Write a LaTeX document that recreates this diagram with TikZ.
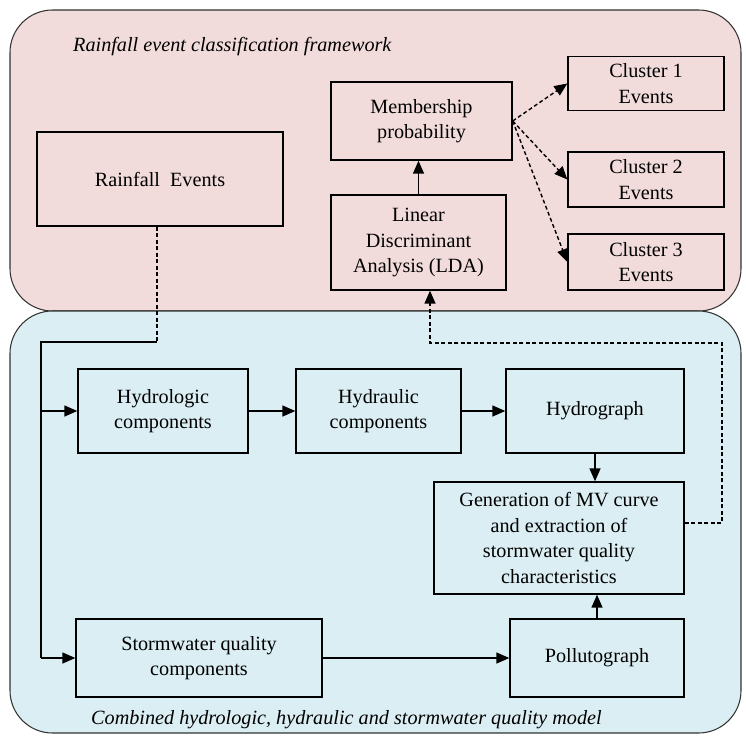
\documentclass[tikz,border=0pt]{standalone}
\usepackage{fontspec}
\setmainfont{Liberation Serif}
\usetikzlibrary{arrows.meta,positioning}
\definecolor{pinkbg}{RGB}{242,220,219}
\definecolor{bluebg}{RGB}{219,238,243}

\begin{document}
\begin{tikzpicture} [x=0.02cm,y=-0.02cm,{block/.style={rectangle,draw=black,line width=0.8pt,align=center,inner sep=1mm,font=\fontsize{11.5}{14.5}\selectfont}},{frame/.style={draw=black!80,line width=0.6pt,rounded corners=0.85cm}},{flow/.style={-{Triangle[length=2.6mm,width=2.2mm]},line width=0.8pt}},{dflow/.style={flow,dash pattern=on 2.2pt off 1.5pt}},{ttl/.style={anchor=west,font=\fontsize{11.5}{14}\selectfont\itshape}}]
		\useasboundingbox (0,0) rectangle (746,737);
		%%frames
		\draw [frame,fill=pinkbg] (10,10) rectangle (741,311);
		\draw [frame,fill=bluebg] (10,311) rectangle (741,733);
		\node at (67,47) [ttl] (t1) {Rainfall event classification framework};
		\node at (85,720) [ttl] (t2) {Combined hydrologic, hydraulic and stormwater quality model};
		%%classification nodes
		\node at (160,179) [block,minimum width=4.92cm,minimum height=1.88cm] (rain) {Rainfall~~Events};
		\node at (421.5,121) [block,minimum width=3.62cm,minimum height=1.56cm] (memb) {Membership\\probability};
		\node at (418.5,242.5) [block,minimum width=3.5cm,minimum height=1.9cm] (lda) {Linear\\Discriminant\\Analysis (LDA)};
		\node at (646,83.5) [block,minimum width=3.12cm,minimum height=1.08cm] (c1) {Cluster 1\\Events};
		\node at (646,179.5) [block,minimum width=3.12cm,minimum height=1.1cm] (c2) {Cluster 2\\Events};
		\node at (646,262) [block,minimum width=3.12cm,minimum height=1.12cm] (c3) {Cluster 3\\Events};
		%%model nodes
		\node at (163,411) [block,minimum width=3.4cm,minimum height=1.68cm] (hydrol) {Hydrologic\\components};
		\node at (378.5,411) [block,minimum width=3.3cm,minimum height=1.68cm] (hydrau) {Hydraulic\\components};
		\node at (595,411) [block,minimum width=3.56cm,minimum height=1.68cm] (hydrog) {Hydrograph};
		\node at (559,538) [block,minimum width=5cm,minimum height=2.24cm] (gen) {Generation of MV curve\\and extraction of\\stormwater quality\\characteristics};
		\node at (199,658) [block,minimum width=4.92cm,minimum height=1.56cm] (swq) {Stormwater quality\\components};
		\node at (597,658) [block,minimum width=3.48cm,minimum height=1.56cm] (poll) {Pollutograph};
		%%bends
		\coordinate (r1) at (157,342);
		\coordinate (bus) at (41,342);
		\coordinate (fb1) at (722,523);
		\coordinate (fb2) at (722,343);
		\coordinate (fb3) at (430,343);
		%%connectors
		\draw [flow] (lda.north) -- (lda.north |- memb.south);
		\draw [dflow] (memb.east) -- (c1.west);
		\draw [dflow] (memb.east) -- (c2.west);
		\draw [dflow] (memb.east) -- (c3.west);
		\draw [dash pattern=on 2.2pt off 1.5pt,line width=0.8pt] (rain.south -| r1) -- (r1);
		\draw [line width=0.8pt] (r1) -- (bus) -- (bus |- swq);
		\draw [flow] (bus |- hydrol) -- (hydrol);
		\draw [flow] (bus |- swq) -- (swq);
		\draw [flow] (hydrol) -- (hydrau);
		\draw [flow] (hydrau) -- (hydrog);
		\draw [flow] (hydrog.south) -- (hydrog.south |- gen.north);
		\draw [flow] (swq) -- (poll);
		\draw [flow] (poll.north) -- (poll.north |- gen.south);
		\draw [dflow] (gen.east |- fb1) -- (fb1) -- (fb2) -- (fb3) -- (fb3 |- lda.south);
	\end{tikzpicture}
\end{document}
